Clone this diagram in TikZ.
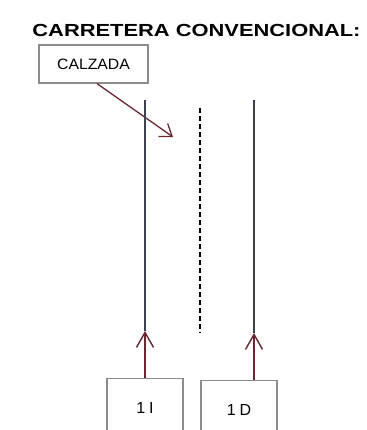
\documentclass[tikz,border=0pt]{standalone}
\usepackage{fontspec}
\setmainfont{Liberation Sans}
\usetikzlibrary{arrows.meta}
\definecolor{roadline}{HTML}{3C4150}
\definecolor{arrowred}{HTML}{6B2730}
\definecolor{boxgray}{HTML}{8C8C8C}
\begin{document}
\begin{tikzpicture}[x=1pt,y=-1pt,
  labelbox/.style={draw=boxgray, line width=1.2pt, fill=white, inner sep=0pt},
  road/.style={draw=roadline, line width=1.3pt},
  centreline/.style={draw=black, line width=1.8pt, dash pattern=on 5pt off 3pt},
  pointer/.style={draw=arrowred, line width=1.3pt, -{Straight Barb[length=11pt,width=16pt,line width=1.3pt]}},
  uppointer/.style={draw=arrowred, line width=1.4pt, -{Straight Barb[length=15pt,width=17pt,line width=1.4pt]}}]
\useasboundingbox (0,0) rectangle (366,430);
\clip (0,0) rectangle (366,430);
\node (title) at (196.5,30) {\scalebox{1.25}[1]{\bfseries\fontsize{17.5}{19}\selectfont CARRETERA CONVENCIONAL:}};
\node[labelbox, minimum width=109pt, minimum height=38pt] (calz) at (93.5,64)
  {\scalebox{1.05}[1]{\fontsize{15}{17}\selectfont CALZADA}};
\coordinate (ctip) at (173,137);
\draw[pointer] ([xshift=3.5pt]calz.south) -- (ctip);
% road edges
\coordinate (ltop) at (145,100);
\coordinate (lbot) at (145,331);
\coordinate (rtop) at (254,100);
\coordinate (rbot) at (254,333);
\draw[road] (ltop) -- (lbot);
\draw[road] (rtop) -- (rbot);
% centre dashed line
\coordinate (ctop) at (200,108);
\coordinate (cbot) at (200,333);
\draw[centreline] (ctop) -- (cbot);
% lane boxes
\node[labelbox, anchor=north, minimum width=76pt, minimum height=58pt] (laneI) at (145,378)
  {\fontsize{16}{18}\selectfont 1\hspace{4pt}I};
\node[labelbox, anchor=north, minimum width=76pt, minimum height=58pt] (laneD) at (239,380)
  {\fontsize{16}{18}\selectfont 1\hspace{4pt}D};
\draw[uppointer] (laneI.north) -- (lbot);
\draw[uppointer] ([xshift=15pt]laneD.north) -- (rbot);
\end{tikzpicture}
\end{document}
